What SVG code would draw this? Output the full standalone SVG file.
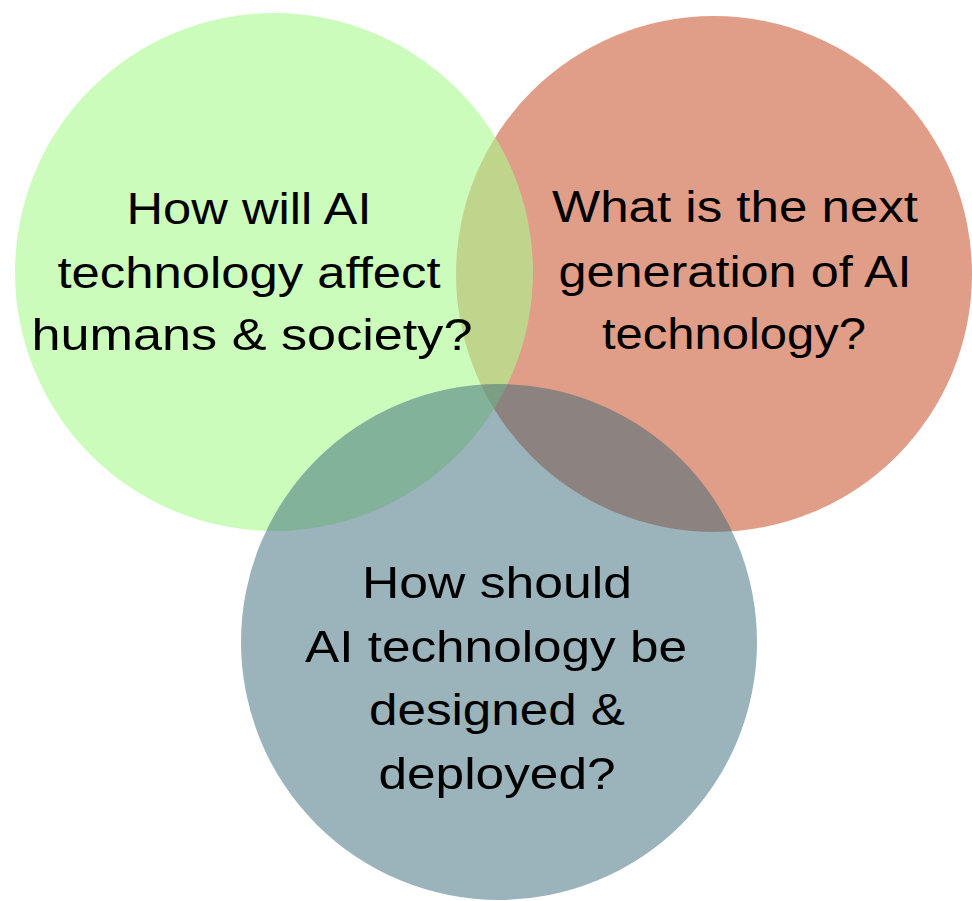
<svg xmlns="http://www.w3.org/2000/svg" width="972" height="901" viewBox="0 0 972 901">
<style>
.t{font-family:"Liberation Sans",Arial,sans-serif;font-size:45px;fill:#000;text-anchor:middle}
</style>
<rect width="972" height="901" fill="#fff"/>
<g id="circle-red"><circle cx="714" cy="274" r="258" fill="#e09e88"/></g>
<g id="circle-green"><circle cx="274" cy="272" r="259" fill="#aafa8f" fill-opacity="0.6"/></g>
<g id="circle-blue"><circle cx="499" cy="642" r="258" fill="#376777" fill-opacity="0.5"/></g>
<g id="connectors"></g>
<g id="label-green">
<text class="t" x="249" y="224" textLength="245" lengthAdjust="spacingAndGlyphs">How will AI</text>
<text class="t" x="249" y="288" textLength="383" lengthAdjust="spacingAndGlyphs">technology affect</text>
<text class="t" x="252" y="350" textLength="441" lengthAdjust="spacingAndGlyphs">humans &amp; society?</text>
</g>
<g id="label-red">
<text class="t" x="735" y="222" textLength="366" lengthAdjust="spacingAndGlyphs">What is the next</text>
<text class="t" x="735" y="287" textLength="353" lengthAdjust="spacingAndGlyphs">generation of AI</text>
<text class="t" x="734" y="349" textLength="264" lengthAdjust="spacingAndGlyphs">technology?</text>
</g>
<g id="label-blue">
<text class="t" x="497" y="598" textLength="270" lengthAdjust="spacingAndGlyphs">How should</text>
<text class="t" x="496" y="662" textLength="382" lengthAdjust="spacingAndGlyphs">AI technology be</text>
<text class="t" x="497" y="725" textLength="256" lengthAdjust="spacingAndGlyphs">designed &amp;</text>
<text class="t" x="497" y="789" textLength="237" lengthAdjust="spacingAndGlyphs">deployed?</text>
</g>
</svg>
